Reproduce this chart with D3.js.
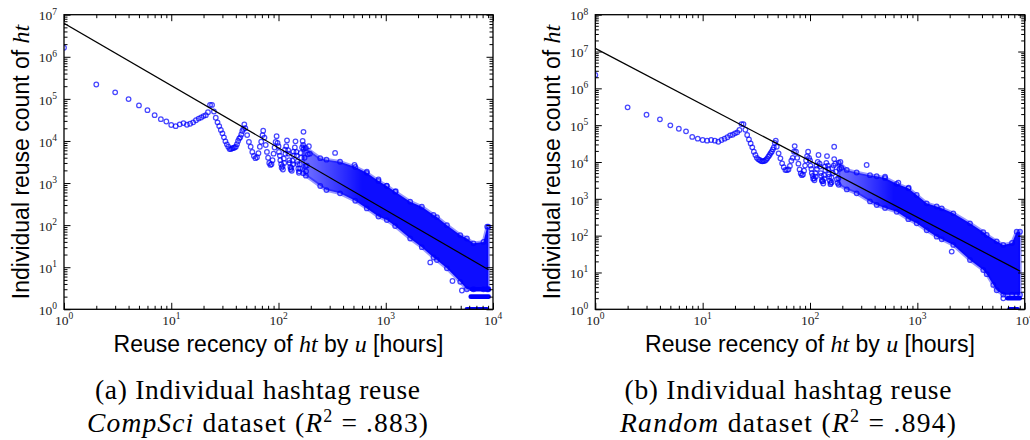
<!DOCTYPE html>
<html>
<head>
<meta charset="utf-8">
<script src="https://cdn.jsdelivr.net/npm/d3@7"></script>
<style>
  body { margin: 0; background: #fff; }
  svg { display: block; }
</style>
</head>
<body>
<svg id="chart" width="1030" height="440"></svg>
<script>
// hours where single points can be read (low recency part of both panels)
var sparseHours = [1,2,3,4,5,6,7,8,9,10,11,12,13,14,15,16,17,18,19,20,21,22,23,24,
  25,26,27,28,29,30,31,32,33,34,35,36,37,38,39,40,41,42,43,44,45,46,47,48,
  49,51,53,55,57,59,61,63,65,67,69,71,72,
  74,76,78,80,82,84,86,88,90,92,94,96,
  98,101,104,107,110,113,116,118,120,
  123,126,130,133,136,139,142,144,
  147,151,155,159,163,166,168];

var compsciCounts = [1.64e6,2.2e5,1.43e5,9.9e4,7.0e4,5.4e4,4.1e4,3.3e4,2.9e4,2.4e4,
  2.25e4,2.48e4,2.66e4,2.43e4,2.56e4,2.77e4,3.1e4,3.4e4,3.6e4,3.9e4,
  4.1e4,4.8e4,7.2e4,7.2e4,5.0e4,3.56e4,2.77e4,2.26e4,1.82e4,1.52e4,
  1.22e4,9.8e3,8.3e3,7.3e3,6.4e3,6.4e3,6.7e3,6.8e3,7.0e3,7.3e3,
  8.4e3,1.0e4,1.14e4,1.22e4,1.42e4,1.72e4,1.92e4,2.48e4,
  2.0e4,1.38e4,9.5e3,7.3e3,5.5e3,4.4e3,3.9e3,4.1e3,5.1e3,7.3e3,9.6e3,1.38e4,1.75e4,
  1.2e4,8e3,5.5e3,4e3,3e3,2.7e3,2.8e3,3.5e3,5e3,7e3,9.5e3,1.3e4,
  9e3,5.5e3,3.5e3,2.3e3,2.1e3,3e3,5e3,7.5e3,1.03e4,
  6e3,3.5e3,2.1e3,1.95e3,2.8e3,4.5e3,7e3,9.8e3,
  5.5e3,2.8e3,1.76e3,2.2e3,4e3,7e3,1.0e4];

var randomCounts = [2.3e6,3.05e5,1.92e5,1.44e5,9.9e4,8.0e4,6.8e4,4.8e4,4.3e4,3.95e4,
  3.8e4,3.95e4,3.8e4,3.55e4,3.95e4,4.3e4,4.7e4,5.3e4,5.5e4,6.0e4,
  6.4e4,7.4e4,1.07e5,1.07e5,7.5e4,5.4e4,4.1e4,3.2e4,2.5e4,1.9e4,
  1.55e4,1.3e4,1.18e4,1.13e4,1.06e4,1.05e4,1.06e4,1.08e4,1.15e4,1.26e4,
  1.4e4,1.55e4,1.75e4,1.9e4,2.2e4,2.5e4,3.3e4,3.8e4,
  2.6e4,1.72e4,1.26e4,9.2e3,7.2e3,6.1e3,6.0e3,6.3e3,7.8e3,1.08e4,1.3e4,1.9e4,2.7e4,
  1.9e4,1.3e4,9e3,6.3e3,4.9e3,4.4e3,4.6e3,5.8e3,8e3,1.1e4,1.45e4,1.9e4,
  1.3e4,8e3,5e3,3.5e3,3.2e3,4e3,6.5e3,1.0e4,1.55e4,
  9e3,5e3,3e3,2.6e3,3.5e3,6e3,9.5e3,1.45e4,
  8e3,4e3,2.5e3,2.8e3,5e3,8e3,1.2e4];

// second, weaker strand of the daily oscillation (100-200 h)
var strandHours = [100,103,106,109,112,115,124,127,129,132,135,138,148,150,153,156,158,161,172,175,178,181,184,188,192,196];
var compsciStrand = [7.5e3,4.5e3,2.8e3,2.5e3,3.8e3,6.2e3,5e3,3e3,2.4e3,2.3e3,3.4e3,5.6e3,4.5e3,3.2e3,2.2e3,1.9e3,2.8e3,5.2e3,6.5e3,4e3,2.5e3,1.9e3,2.6e3,4.8e3,7.5e3,5e3];
var randomStrand  = [1.1e4,6.5e3,4.2e3,3.6e3,5e3,8e3,7.5e3,4.2e3,3.2e3,3e3,4.4e3,7.6e3,6.5e3,4.6e3,3.1e3,2.7e3,3.8e3,6.8e3,9e3,5.5e3,3.4e3,2.7e3,3.6e3,6.5e3,1.0e4,7e3];

// dense part: upper and lower edge of the cloud
var compsciBandHours = [170,180,245,280,375,520,666,855,1024,1224,1690,2170,2790,3000,3720,4950,5710,6580,8150,8830,9050];
var compsciBandHigh  = [8.0e3,6.8e3,3.9e3,3.6e3,3.2e3,2.4e3,1.75e3,1.12e3,850,620,360,273,174,155,100,58,48,37,40,92,92];
var compsciBandLow   = [1.7e3,1.5e3,850,680,570,380,250,160,132,95,48,30,17,14.8,9.4,4.5,3,3,3,3,3];

var randomBandHours = [185,220,272,362,418,500,642,824,986,1222,1514,1687,2162,3093,4113,4426,5485,6319,7620,8420,9040];
var randomBandHigh  = [9.6e3,6.1e3,5.2e3,4.4e3,4.1e3,3.7e3,2.55e3,1.93e3,1.27e3,755,620,552,404,216,125,104,70,56,63,128,128];
var randomBandLow   = [2.4e3,1.8e3,1.41e3,850,680,560,447,280,216,140,94,80,56,21.8,11.7,9,3.3,2.5,2.5,2.5,2.5];

// rows of points at small counts near the end of the range: [from hour, to hour, count]
var compsciRows = [[6350, 9100, 3], [6200, 9100, 2], [5700, 8800, 1]];
var randomRows  = [[6900, 9000, 2], [7200, 8600, 1]];

// stray points outside the cloud: [hour, count]
var compsciOutliers = [[171,1.65e4],[337,5.2e3],[511,2.7e3],[666,1.85e3],[855,1.22e3],[1020,870],[1240,640],[2600,13],[4190,4.7],[5130,2.8]];
var randomOutliers  = [[168,2.6e4],[337,8.3e3],[500,4.0e3],[665,2.74e3],[830,2.0e3],[2090,37],[5096,4.6],[6319,2]];

// fitted power law, end points
var fitHours = [1, 9100];
var compsciFit = [6.25e6, 8.7];
var randomFit = [1.22e7, 10.8];

var svg = d3.select("#chart");
var blue = "#0000ff";
var serif = "'Liberation Serif', serif";
var sans = "'Liberation Sans', Arial, sans-serif";

function powLabel(t, exp) {
  t.append("tspan").text("10");
  t.append("tspan").attr("dy", -5.7).attr("font-size", 9.5).text(exp);
}

function drawPanel(o) {
  var top = 14.7, bottom = 309.3;
  var x = d3.scaleLog().domain([1, 1e4]).range([o.left, o.right]);
  var y = d3.scaleLog().domain([1, Math.pow(10, o.yExp)]).range([bottom, top]);

  var g = svg.append("g");
  var defs = g.append("defs");
  defs.append("clipPath").attr("id", o.id + "clip")
    .append("rect")
      .attr("x", o.left).attr("y", top)
      .attr("width", o.right - o.left).attr("height", bottom - top);

  // the cloud is thinner where it starts
  var grad = defs.append("linearGradient").attr("id", o.id + "grad")
      .attr("gradientUnits", "userSpaceOnUse")
      .attr("x1", x(o.bandHours[0])).attr("x2", x(600)).attr("y1", 0).attr("y2", 0);
  grad.append("stop").attr("offset", 0).attr("stop-color", blue).attr("stop-opacity", 0.55);
  grad.append("stop").attr("offset", 1).attr("stop-color", blue).attr("stop-opacity", 0.95);

  var plot = g.append("g").attr("clip-path", "url(#" + o.id + "clip)");

  // dense cloud
  var band = o.bandHours.map(function(h, i) { return { h: h, hi: o.bandHigh[i], lo: o.bandLow[i] }; });
  var area = d3.area()
      .x(function(d) { return x(d.h); })
      .y0(function(d) { return y(d.lo); })
      .y1(function(d) { return y(d.hi); });
  plot.append("path")
      .datum(band)
      .attr("d", area)
      .attr("fill", "url(#" + o.id + "grad)")
      .attr("stroke", blue)
      .attr("stroke-opacity", 0.4)
      .attr("stroke-width", 3.5)
      .attr("stroke-linejoin", "round");

  plot.append("g").selectAll("line")
      .data(o.rows)
      .enter().append("line")
        .attr("x1", function(d) { return x(d[0]); })
        .attr("x2", function(d) { return x(d[1]); })
        .attr("y1", function(d) { return y(d[2]); })
        .attr("y2", function(d) { return y(d[2]); })
        .attr("stroke", blue)
        .attr("stroke-width", 4.6)
        .attr("stroke-linecap", "round");

  var pts = o.hours.map(function(h, i) { return [h, o.counts[i]]; })
      .concat(strandHours.map(function(h, i) { return [h, o.strand[i]]; }))
      .concat(o.outliers)
      .concat(band.map(function(d) { return [d.h, d.hi]; }))
      .concat(band.map(function(d) { return [d.h, d.lo]; }));

  plot.append("g").selectAll("circle")
      .data(pts)
      .enter().append("circle")
        .attr("cx", function(d) { return x(d[0]); })
        .attr("cy", function(d) { return y(d[1]); })
        .attr("r", 2.3)
        .attr("fill", "none")
        .attr("stroke", blue)
        .attr("stroke-opacity", 0.72)
        .attr("stroke-width", 1.25);

  plot.append("path")
      .datum(fitHours.map(function(h, i) { return [h, o.fit[i]]; }))
      .attr("d", d3.line().x(function(d) { return x(d[0]); }).y(function(d) { return y(d[1]); }))
      .attr("stroke", "#000")
      .attr("stroke-width", 1.2)
      .attr("fill", "none");

  // ticks, pointing inward on all four sides
  var xMajor = d3.range(0, 5).map(function(e) { return Math.pow(10, e); });
  var xMinor = [];
  d3.range(0, 4).forEach(function(e) { for (var k = 2; k < 10; k++) xMinor.push(k * Math.pow(10, e)); });
  var yMajor = d3.range(0, o.yExp + 1).map(function(e) { return Math.pow(10, e); });
  var yMinor = [];
  d3.range(0, o.yExp).forEach(function(e) { for (var k = 2; k < 10; k++) yMinor.push(k * Math.pow(10, e)); });

  function ticks(axis, vals, size, tr) {
    var a = g.append("g").attr("transform", tr)
      .call(axis.tickValues(vals).tickSize(-size).tickFormat(""));
    a.select(".domain").remove();
    a.selectAll("line").attr("stroke", "#000").attr("stroke-width", 1);
  }
  ticks(d3.axisBottom(x), xMajor, 6.5, "translate(0," + bottom + ")");
  ticks(d3.axisBottom(x), xMinor, 3.5, "translate(0," + bottom + ")");
  ticks(d3.axisTop(x), xMajor, 6.5, "translate(0," + top + ")");
  ticks(d3.axisTop(x), xMinor, 3.5, "translate(0," + top + ")");
  ticks(d3.axisLeft(y), yMajor, 6.5, "translate(" + o.left + ",0)");
  ticks(d3.axisLeft(y), yMinor, 3.5, "translate(" + o.left + ",0)");
  ticks(d3.axisRight(y), yMajor, 6.5, "translate(" + o.right + ",0)");
  ticks(d3.axisRight(y), yMinor, 3.5, "translate(" + o.right + ",0)");

  g.append("rect")
      .attr("x", o.left).attr("y", top)
      .attr("width", o.right - o.left).attr("height", bottom - top)
      .attr("fill", "none").attr("stroke", "#000").attr("stroke-width", 1.3);

  // tick labels
  xMajor.forEach(function(v, i) {
    var t = g.append("text")
        .attr("x", x(v)).attr("y", bottom + 15.7)
        .attr("text-anchor", "middle")
        .style("font-family", serif)
        .attr("font-size", 13.5).attr("fill", "#222");
    powLabel(t, i);
  });
  yMajor.forEach(function(v, i) {
    var t = g.append("text")
        .attr("x", o.left - 7).attr("y", y(v) + 5.7)
        .attr("text-anchor", "end")
        .style("font-family", serif)
        .attr("font-size", 13.5).attr("fill", "#222");
    powLabel(t, i);
  });

  // axis titles
  var xt = g.append("text")
      .attr("x", (o.left + o.right) / 2).attr("y", 351.7)
      .attr("text-anchor", "middle")
      .style("font-family", sans)
      .attr("font-size", 23);
  xt.append("tspan").text("Reuse recency of ");
  xt.append("tspan").style("font-family", serif).attr("font-style", "italic").attr("font-size", 24).text("ht");
  xt.append("tspan").text(" by ");
  xt.append("tspan").style("font-family", serif).attr("font-style", "italic").attr("font-size", 24).text("u");
  xt.append("tspan").text(" [hours]");

  var yt = g.append("text")
      .attr("transform", "translate(" + (o.left - 35.5) + "," + ((top + bottom) / 2) + ") rotate(-90)")
      .attr("text-anchor", "middle")
      .style("font-family", sans)
      .attr("font-size", 23);
  yt.append("tspan").text("Individual reuse count of ");
  yt.append("tspan").style("font-family", serif).attr("font-style", "italic").attr("font-size", 24).text("ht");

  // caption
  g.append("text")
      .attr("x", o.capX).attr("y", 399)
      .attr("text-anchor", "middle")
      .style("font-family", serif)
      .attr("font-size", 27.5)
      .attr("textLength", o.cap1Len).attr("lengthAdjust", "spacing")
      .text(o.cap1);
  var c2 = g.append("text")
      .attr("x", o.capX).attr("y", 432)
      .attr("text-anchor", "middle")
      .style("font-family", serif)
      .attr("font-size", 27.5)
      .attr("textLength", o.cap2Len).attr("lengthAdjust", "spacing");
  c2.append("tspan").attr("font-style", "italic").text(o.dataset);
  c2.append("tspan").text(" dataset (");
  c2.append("tspan").attr("font-style", "italic").text("R");
  c2.append("tspan").attr("dy", -10).attr("font-size", 18).text("2");
  c2.append("tspan").attr("dy", 10).text(" = " + o.r2 + ")");
}

drawPanel({
  id: "a", left: 64, right: 493, yExp: 7,
  hours: sparseHours, counts: compsciCounts, strand: compsciStrand,
  bandHours: compsciBandHours, bandHigh: compsciBandHigh, bandLow: compsciBandLow,
  rows: compsciRows, outliers: compsciOutliers, fit: compsciFit,
  capX: 257.5, cap1: "(a) Individual hashtag reuse", cap1Len: 325,
  dataset: "CompSci", r2: ".883", cap2Len: 341
});

drawPanel({
  id: "b", left: 595.3, right: 1024.7, yExp: 8,
  hours: sparseHours, counts: randomCounts, strand: randomStrand,
  bandHours: randomBandHours, bandHigh: randomBandHigh, bandLow: randomBandLow,
  rows: randomRows, outliers: randomOutliers, fit: randomFit,
  capX: 788, cap1: "(b) Individual hashtag reuse", cap1Len: 327,
  dataset: "Random", r2: ".894", cap2Len: 336
});
</script>
</body>
</html>
